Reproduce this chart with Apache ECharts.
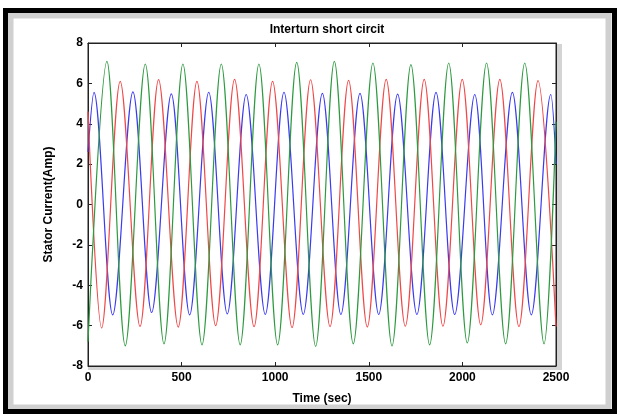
<!DOCTYPE html>
<html><head><meta charset="utf-8">
<script src="https://cdn.jsdelivr.net/npm/echarts@6/dist/echarts.min.js"></script>
<style>html,body{margin:0;padding:0;background:#fff}#c{width:620px;height:418px}</style>
</head><body><div id="c"></div>
<script>
const titleText = 'Interturn short circit';
const xName = 'Time (sec)';
const yName = 'Stator Current(Amp)';
const xMin = 0, xMax = 2500, xStep = 500;
const yMin = -8, yMax = 8, yStep = 2;

// Phase currents read at start, peaks, troughs and end
const blueT = [0, 32, 132, 240, 340, 445, 543, 645, 744, 845, 947, 1047, 1150, 1252, 1351, 1453, 1553, 1654, 1757, 1859, 1959, 2066, 2160, 2267, 2368, 2472, 2500];
const blueV = [2.6, 5.55, -5.47, 5.58, -5.35, 5.48, -5.47, 5.56, -5.42, 5.45, -5.45, 5.56, -5.44, 5.5, -5.45, 5.5, -5.45, 5.47, -5.45, 5.55, -5.45, 5.45, -5.47, 5.55, -5.47, 5.45, 2.0];

const redT = [0, 73, 172, 278, 377, 482, 582, 682, 783, 887, 986, 1090, 1189, 1293, 1392, 1492, 1593, 1695, 1796, 1896, 1999, 2098, 2200, 2302, 2404, 2500];
const redV = [4.6, -6.12, 6.1, -6.04, 6.19, -6.07, 6.1, -6.0, 6.2, -6.05, 6.1, -6.1, 6.18, -6.05, 6.15, -6.07, 6.2, -6.03, 6.2, -6.03, 6.2, -5.96, 6.2, -6.05, 6.14, -6.05];

const greenT = [0, 101, 199, 306, 406, 507, 609, 712, 813, 913, 1013, 1115, 1216, 1316, 1417, 1522, 1624, 1725, 1825, 1927, 2026, 2129, 2231, 2333, 2436, 2500];
const greenV = [-6.8, 7.09, -7.0, 6.96, -6.9, 6.96, -6.95, 6.96, -6.95, 6.96, -6.95, 7.04, -7.03, 7.09, -6.9, 7.01, -7.0, 6.93, -6.95, 7.01, -6.86, 7.01, -6.9, 7.01, -6.9, 4.1];

const zip = (t, v) => t.map((x, i) => [x, v[i]]);
const font = 'Liberation Sans, Arial, sans-serif';
const lbl = {color: '#000', fontFamily: font, fontWeight: 'bold', fontSize: 12};
const plain = v => String(v);

const chart = echarts.init(document.getElementById('c'), null, {renderer: 'canvas'});
const G = {left: 88, right: 64, top: 43, bottom: 52};
const mkSeries = (name, data, color) => ({
  name, type: 'line', data, smooth: 0.33, symbol: 'none', clip: true,
  lineStyle: {color, width: 1.2}, itemStyle: {color}, animation: false
});
const axLine = {show: true, onZero: false, lineStyle: {color: '#222'}};
const axTick = {show: true, inside: true, length: 4, lineStyle: {color: '#222'}};
chart.setOption({
  animation: false,
  backgroundColor: '#fff',
  title: {
    text: titleText, left: G.left + (620 - G.left - G.right) / 2, top: 19, textAlign: 'center',
    textStyle: {fontFamily: font, fontWeight: 'bold', fontSize: 12, color: '#000'}
  },
  grid: {left: G.left, right: G.right, top: G.top, bottom: G.bottom, show: true, borderColor: '#222', borderWidth: 1, backgroundColor: '#fff'},
  xAxis: [{
    type: 'value', min: xMin, max: xMax, interval: xStep,
    name: xName, nameLocation: 'middle', nameGap: 27, nameTextStyle: lbl,
    axisLine: axLine, axisTick: axTick,
    axisLabel: Object.assign({margin: 6, formatter: plain}, lbl),
    splitLine: {show: false}
  }, {
    type: 'value', min: xMin, max: xMax, interval: xStep, position: 'top',
    axisLine: axLine, axisTick: axTick,
    axisLabel: {show: false}, splitLine: {show: false}
  }],
  yAxis: [{
    type: 'value', min: yMin, max: yMax, interval: yStep,
    name: yName, nameLocation: 'middle', nameGap: 33, nameRotate: 90, nameTextStyle: lbl,
    axisLine: axLine, axisTick: axTick,
    axisLabel: Object.assign({margin: 5, formatter: plain}, lbl),
    splitLine: {show: false}
  }, {
    type: 'value', min: yMin, max: yMax, interval: yStep, position: 'right',
    axisLine: axLine, axisTick: axTick,
    axisLabel: {show: false}, splitLine: {show: false}
  }],
  series: [
    mkSeries('Phase A', zip(blueT, blueV), '#3a3af0'),
    mkSeries('Phase B', zip(redT, redV), '#f04848'),
    mkSeries('Phase C', zip(greenT, greenV), '#2e9a40')
  ],
  graphic: [
    {type: 'rect', z: 0, shape: {x: 557, y: 44, width: 5, height: 326}, style: {fill: '#d4d4d4'}},
    {type: 'rect', z: 0, shape: {x: 88, y: 367, width: 474, height: 3}, style: {fill: '#d4d4d4'}},
    {type: 'rect', z: 0, shape: {x: 10.5, y: 15.5, width: 598, height: 392}, style: {fill: 'none', stroke: '#d0d0d0', lineWidth: 6}},
    {type: 'rect', z: 0, shape: {x: 5.5, y: 10.5, width: 609, height: 401}, style: {fill: 'none', stroke: '#000', lineWidth: 5}}
  ]
});
</script></body></html>
